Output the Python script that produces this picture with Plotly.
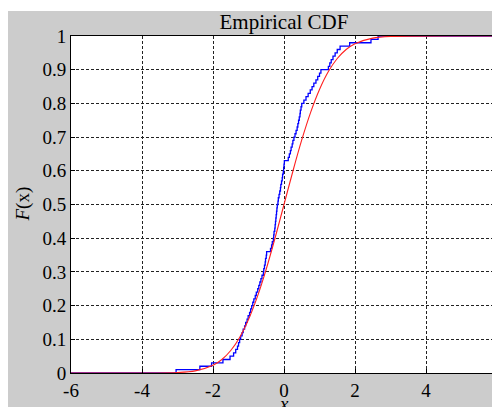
import plotly.graph_objects as go

# Sorted sample values, n = 100
samples = [
    -3.04, -2.37, -2.04, -1.72, -1.52, -1.42, -1.36, -1.31, -1.28, -1.25,
    -1.22, -1.18, -1.15, -1.11, -1.08, -1.04, -1.01, -0.97, -0.94, -0.91,
    -0.88, -0.85, -0.81, -0.78, -0.74, -0.71, -0.68, -0.65, -0.62, -0.58,
    -0.57, -0.55, -0.53, -0.52, -0.50, -0.49, -0.38, -0.35, -0.33, -0.30,
    -0.29, -0.28, -0.26, -0.25, -0.24, -0.23, -0.22, -0.21, -0.20, -0.19,
    -0.17, -0.16, -0.14, -0.12, -0.10, -0.09, -0.07, -0.05, -0.04, -0.02,
    -0.01, 0.00, 0.01, 0.12, 0.15, 0.18, 0.20, 0.23, 0.25, 0.28,
    0.31, 0.34, 0.37, 0.39, 0.41, 0.43, 0.45, 0.46, 0.48, 0.50,
    0.56, 0.62, 0.68, 0.74, 0.79, 0.84, 0.90, 0.95, 1.00, 1.04,
    1.25, 1.29, 1.33, 1.38, 1.44, 1.50, 1.58, 1.85, 2.45, 2.65,
]

# Theoretical (red) CDF curve
ref_x = [-6, -3, -2.5, -2, -1.75, -1.5, -1.25, -1, -0.75, -0.5, -0.25, 0,
         0.25, 0.5, 0.75, 1, 1.25, 1.5, 1.75, 2, 2.5, 3, 6]
ref_y = [0, 0.0013, 0.0062, 0.0228, 0.0401, 0.0668, 0.1056, 0.1587, 0.2266,
         0.3085, 0.4013, 0.5, 0.5987, 0.6915, 0.7734, 0.8413, 0.8944, 0.9332,
         0.9599, 0.9772, 0.9938, 0.9987, 1.0]

x_ticks = [-6, -4, -2, 0, 2, 4, 6]
y_ticks = [0, 0.1, 0.2, 0.3, 0.4, 0.5, 0.6, 0.7, 0.8, 0.9, 1]
y_tick_text = ["0", "0.1", "0.2", "0.3", "0.4", "0.5", "0.6", "0.7", "0.8", "0.9", "1"]

n = len(samples)
step_x = [-6] + samples + [6]
step_y = [0] + [(i + 1) / n for i in range(n)] + [1]

FONT = "Liberation Serif, Times New Roman, serif"

fig = go.Figure()
fig.add_trace(go.Scatter(x=step_x, y=step_y, mode="lines", line_shape="hv",
                         line=dict(color="#0000ff", width=1.3), showlegend=False))
fig.add_trace(go.Scatter(x=ref_x, y=ref_y, mode="lines", line_shape="spline",
                         line=dict(color="#ff2020", width=1.1, smoothing=0.8),
                         showlegend=False))

axis_common = dict(
    showline=True, linecolor="black", linewidth=1, mirror=True,
    ticks="inside", ticklen=4, tickcolor="black",
    showgrid=True, gridcolor="#222222", gridwidth=1, griddash="3px,2px",
    zeroline=False, automargin=False,
    tickfont=dict(family=FONT, size=19, color="black"),
)

fig.update_xaxes(range=[-6, 6], tickvals=x_ticks, ticktext=[str(v) for v in x_ticks],
                 ticklabelstandoff=0, **axis_common)
fig.update_yaxes(range=[0, 1], tickvals=y_ticks, ticktext=y_tick_text,
                 ticklabelstandoff=0, **axis_common)

# axis titles
fig.add_annotation(text="<i>x</i>", xref="paper", yref="paper", x=0.5, y=-0.09,
                   xanchor="center", yanchor="middle", showarrow=False,
                   font=dict(family=FONT, size=19, color="black"))
fig.add_annotation(text="<i>F</i>(x)", xref="paper", yref="paper", x=-0.115, y=0.5,
                   xanchor="center", yanchor="middle", showarrow=False, textangle=-90,
                   font=dict(family=FONT, size=19, color="black"))

# thin white strip above the grey figure area
fig.add_shape(type="rect", xref="paper", yref="paper", x0=-0.3, x1=1.2, y0=1.0742, y1=1.3,
              fillcolor="white", line_width=0, layer="above")

fig.update_layout(
    width=500, height=407,
    margin=dict(l=63, r=11, t=28, b=42),
    paper_bgcolor="#cccccc", plot_bgcolor="white",
    title=dict(text="Empirical CDF", x=0.5, xref="paper", xanchor="center",
               y=0.9656, yref="container", yanchor="middle",
               font=dict(family=FONT, size=21, color="black")),
    font=dict(family=FONT, color="black"),
)

fig.write_html("out.html")
